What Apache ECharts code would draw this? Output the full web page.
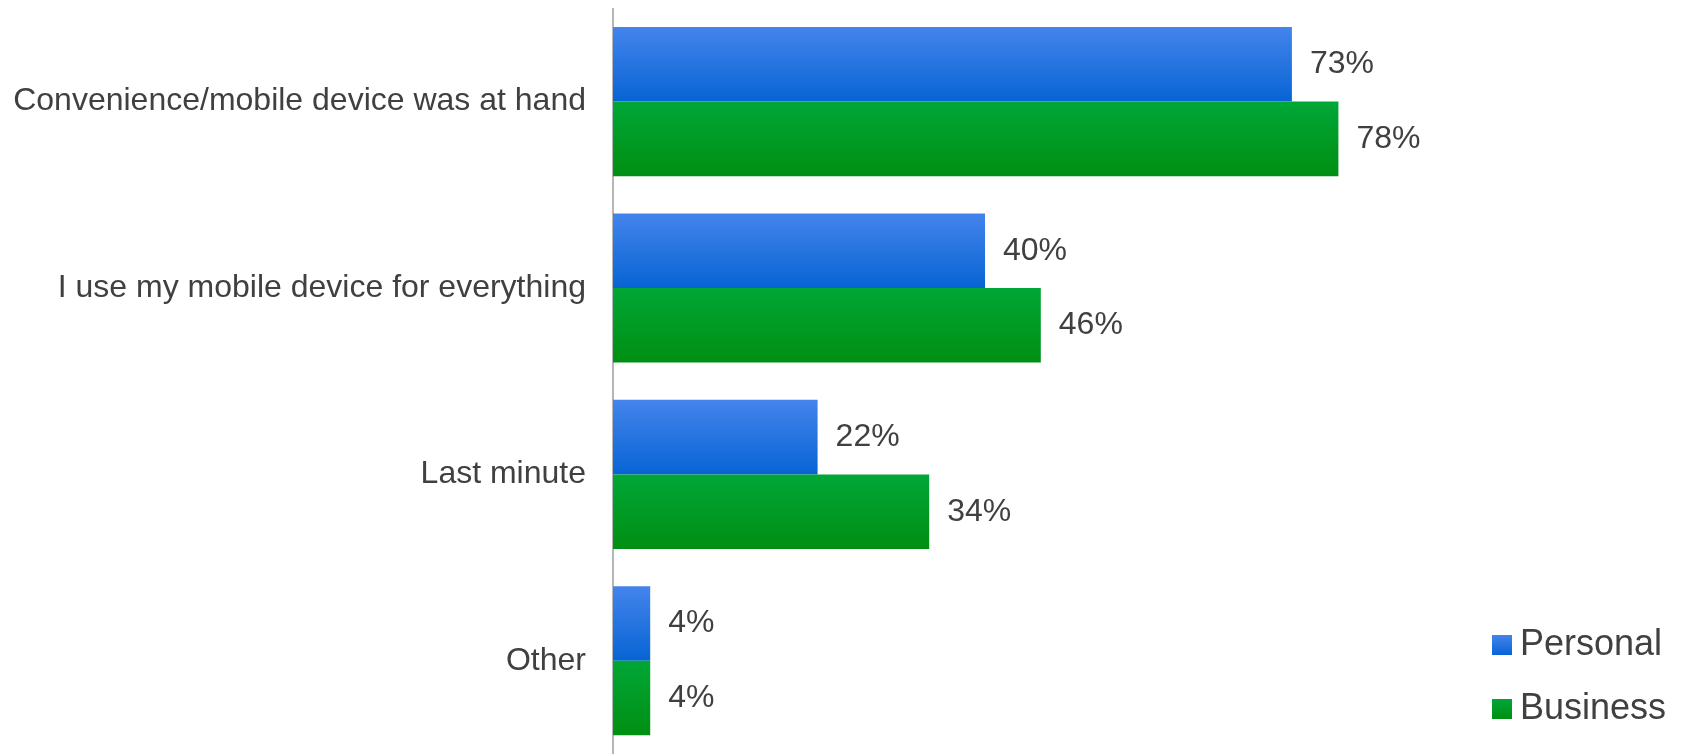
<!DOCTYPE html>
<html>
<head>
<meta charset="utf-8">
<script src="https://cdn.jsdelivr.net/npm/echarts@6/dist/echarts.min.js"></script>
<style>
html,body{margin:0;padding:0;background:#fff;}
#c{width:1686px;height:754px;}
</style>
</head>
<body>
<div id="c"></div>
<script>
const categories = ["Convenience/mobile device was at hand", "I use my mobile device for everything", "Last minute", "Other"];
const personal = [73, 40, 22, 4];
const business = [78, 46, 34, 4];
const seriesNames = ["Personal", "Business"];

const font = "'Liberation Sans', Arial, sans-serif";
const textColor = "#404040";

function grad(top, bottom) {
  return {type: 'linear', x: 0, y: 0, x2: 0, y2: 1,
    colorStops: [{offset: 0, color: top}, {offset: 1, color: bottom}]};
}

const chart = echarts.init(document.getElementById('c'), null, {renderer: 'canvas'});
chart.setOption({
  animation: false,
  backgroundColor: '#ffffff',
  grid: {left: 613, top: 8.4, width: 930, height: 751, containLabel: false},
  xAxis: {type: 'value', min: 0, max: 100, show: false},
  yAxis: {
    type: 'category', data: categories, inverse: true,
    axisLine: {show: true, lineStyle: {color: '#9e9e9e', width: 1.5}},
    axisTick: {show: false},
    axisLabel: {color: textColor, fontSize: 32, fontFamily: font, margin: 27, padding: [5, 0, 0, 0]},
    splitLine: {show: false}
  },
  legend: {
    orient: 'vertical', left: 1492, top: 625, padding: 0,
    itemWidth: 20, itemHeight: 20, itemGap: 24,
    icon: 'rect',
    textStyle: {color: textColor, fontSize: 36, fontFamily: font, lineHeight: 40, padding: [0, 0, 0, 3]},
    data: seriesNames
  },
  series: [
    {
      name: seriesNames[0], type: 'bar', data: personal,
      barGap: '0%', barCategoryGap: '20%',
      itemStyle: {color: grad('#4484ec', '#0764d4')},
      label: {show: true, position: 'right', distance: 18, formatter: '{c}%', color: textColor, fontSize: 32, fontFamily: font, padding: [5, 0, 0, 0]}
    },
    {
      name: seriesNames[1], type: 'bar', data: business,
      barGap: '0%', barCategoryGap: '20%',
      itemStyle: {color: grad('#00a737', '#008f12')},
      label: {show: true, position: 'right', distance: 18, formatter: '{c}%', color: textColor, fontSize: 32, fontFamily: font, padding: [5, 0, 0, 0]}
    }
  ]
});
</script>
</body>
</html>
